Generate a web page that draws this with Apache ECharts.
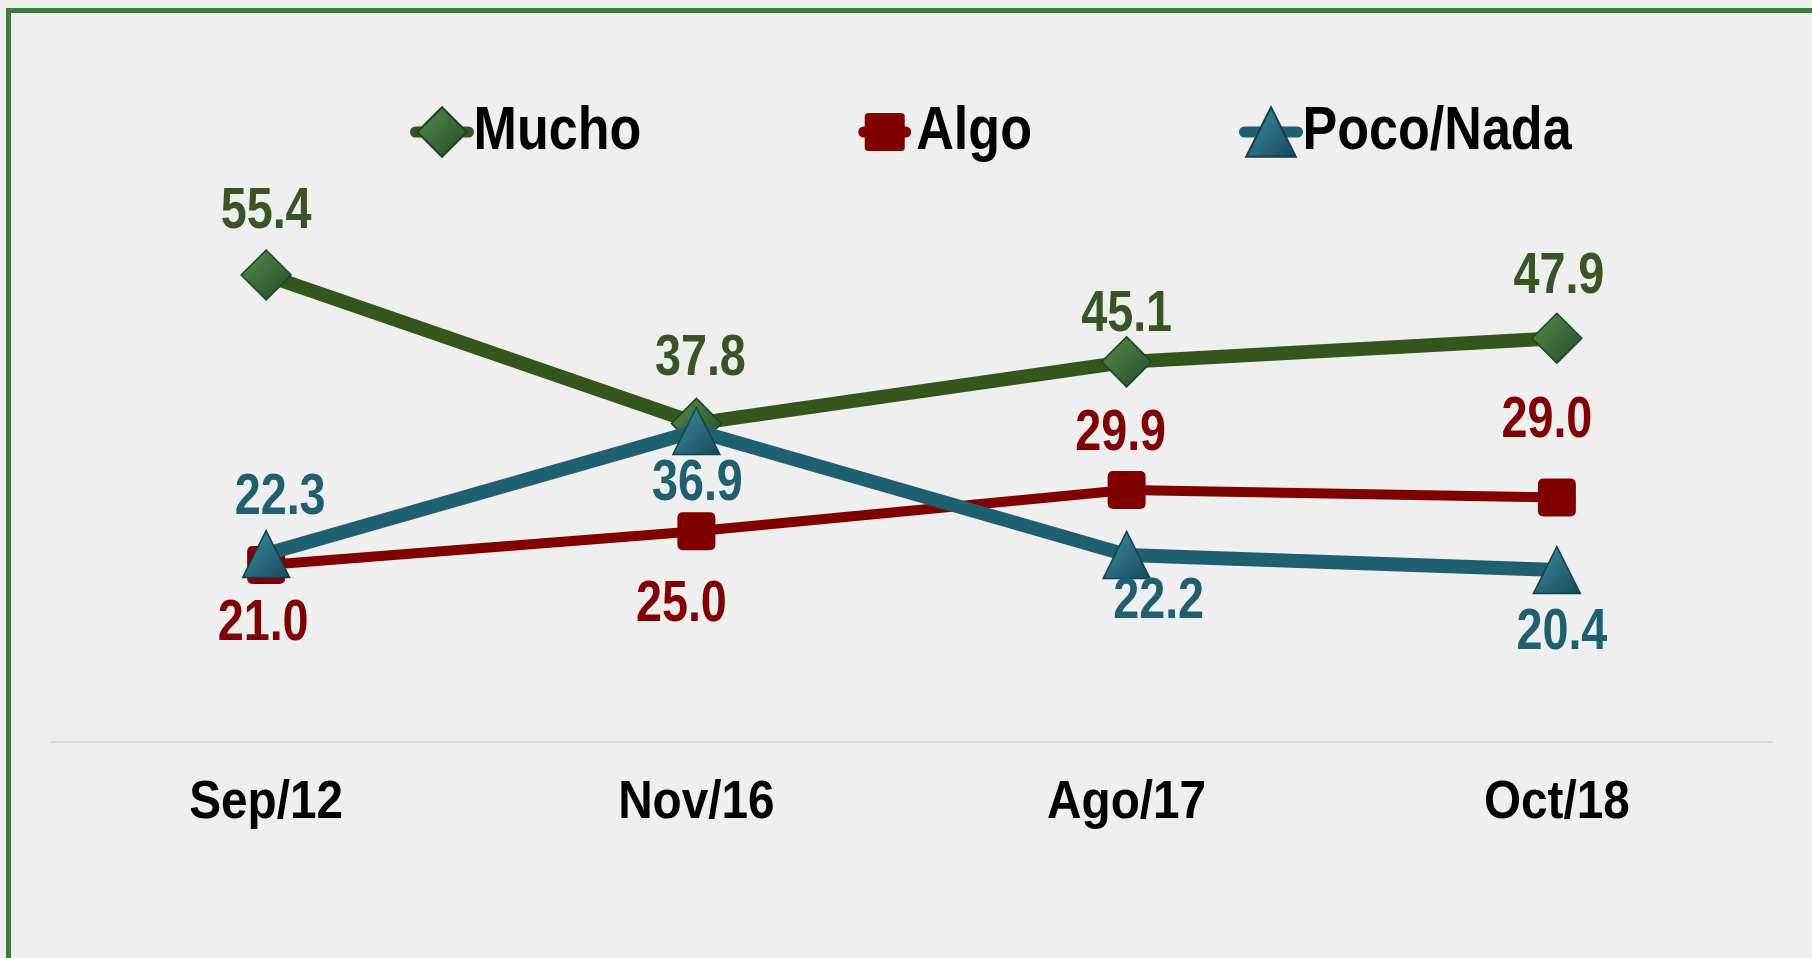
<!DOCTYPE html>
<html>
<head>
<meta charset="utf-8">
<script src="https://cdn.jsdelivr.net/npm/echarts@6/dist/echarts.min.js"></script>
<style>
html,body{margin:0;padding:0;background:#efefef;}
#c{width:1812px;height:958px;}
</style>
</head>
<body>
<div id="c"></div>
<script>
var categories = ['Sep/12', 'Nov/16', 'Ago/17', 'Oct/18'];
var mucho = [55.4, 37.8, 45.1, 47.9];
var algo = [21.0, 25.0, 29.9, 29.0];
var poco = [22.3, 36.9, 22.2, 20.4];
var seriesNames = ['Mucho', 'Algo', 'Poco/Nada'];

// label placement (dx, dy relative to point)
var muchoLabelOffsets = [[0, -63], [4, -64], [0, -47], [2, -61]];
var algoLabelOffsets = [[-3, 59], [-15, 74], [-6, -56], [-10, -76]];
var pocoLabelOffsets = [[14, -56], [1, 53], [32, 47], [5, 63]];

var FONT = "'Liberation Sans', Arial, sans-serif";

function withLabels(values, offsets) {
  return values.map(function (v, i) {
    return { value: v, label: { offset: offsets[i] } };
  });
}

function grad(c1, c2) {
  return new echarts.graphic.LinearGradient(0, 0, 1, 1, [
    { offset: 0, color: c1 }, { offset: 1, color: c2 }
  ]);
}

var roundSquare = 'path://M3,0 H17 Q20,0 20,3 V17 Q20,20 17,20 H3 Q0,20 0,17 V3 Q0,0 3,0 Z';
// legend icon for Algo (53 x 62 box): rounded bar + rounded square
var algoLegendIcon = 'path://M0,0 L0.01,0 Z M53,62 L52.99,62 Z ' +
  'M5.5,25.5 H47.5 A5.5,5.5 0 0 1 47.5,36.5 H5.5 A5.5,5.5 0 0 1 5.5,25.5 Z ' +
  'M10,12 H43 Q46.5,12 46.5,15.5 V46.5 Q46.5,50 43,50 H10 Q6.5,50 6.5,46.5 V15.5 Q6.5,12 10,12 Z';
function fmt(p) { return p.value.toFixed(1); }

var chart = echarts.init(document.getElementById('c'), null, { renderer: 'canvas' });
chart.setOption({
  backgroundColor: '#efefef',
  animation: false,
  textStyle: { fontFamily: FONT },
  graphic: [{
    type: 'rect',
    shape: { x: 8.5, y: 10.5, width: 2000, height: 2000 },
    style: { fill: 'none', stroke: '#3b7d3b', lineWidth: 5 },
    z: 100
  }],
  legend: {
    left: 405,
    top: 96,
    itemWidth: 53,
    itemHeight: 62,
    itemGap: 185,
    textStyle: { fontFamily: FONT, fontSize: 62, fontWeight: 'bold', color: '#000' },
    lineStyle: { width: 11, cap: 'round' },
    data: [{ name: seriesNames[0] }, { name: seriesNames[1], icon: algoLegendIcon }, { name: seriesNames[2] }]
  },
  grid: { left: 51, right: 40, top: 152, bottom: 216 },
  xAxis: {
    type: 'category',
    data: categories,
    boundaryGap: true,
    axisLine: { show: true, lineStyle: { color: '#d9d9d9', width: 2 } },
    axisTick: { show: false },
    axisLabel: { margin: 35, fontFamily: FONT, fontSize: 53, fontWeight: 'bold', color: '#000' },
    splitLine: { show: false }
  },
  yAxis: {
    type: 'value', min: 0, max: 70, show: false, splitLine: { show: false }
  },
  series: [{
    name: 'Mucho',
    type: 'line',
    data: withLabels(mucho, muchoLabelOffsets),
    symbol: 'diamond',
    symbolSize: 50,
    lineStyle: { color: '#34561c', width: 14, cap: 'round' },
    itemStyle: { color: grad('#5b8c48', '#1e4a2c'), borderColor: '#1e4228', borderWidth: 1.5 },
    label: { show: true, position: 'inside', fontFamily: FONT, fontSize: 57, fontWeight: 'bold', color: '#375623', formatter: fmt },
    z: 2
  }, {
    name: 'Algo',
    type: 'line',
    data: withLabels(algo, algoLabelOffsets),
    symbol: roundSquare,
    symbolSize: 38,
    lineStyle: { color: '#800000', width: 10, cap: 'round' },
    itemStyle: { color: '#800000' },
    label: { show: true, position: 'inside', fontFamily: FONT, fontSize: 57, fontWeight: 'bold', color: '#800000', formatter: fmt },
    z: 3
  }, {
    name: 'Poco/Nada',
    type: 'line',
    data: withLabels(poco, pocoLabelOffsets),
    symbol: 'triangle',
    symbolSize: 47,
    lineStyle: { color: '#1f5f70', width: 14, cap: 'round' },
    itemStyle: { color: grad('#3f8fa5', '#17485a'), borderColor: '#163f4d', borderWidth: 1.5 },
    label: { show: true, position: 'inside', fontFamily: FONT, fontSize: 57, fontWeight: 'bold', color: '#215f70', formatter: fmt },
    z: 4
  }]
});

// Condense the text horizontally (the original uses a narrow bold face)
(function condense() {
  var zr = chart.getZr();
  var list = zr.storage.getDisplayList(true);
  list.forEach(function (el) {
    if (!el.style || typeof el.style.text !== 'string') return;
    var t = el.style.text;
    var s = categories.indexOf(t) >= 0 ? 0.9 : (seriesNames.indexOf(t) >= 0 ? 0.84 : 0.82);
    el.originX = el.style.x || 0;
    el.originY = el.style.y || 0;
    el.scaleX = s;
    el.markRedraw();
  });
  zr.refresh();
})();
</script>
</body>
</html>
